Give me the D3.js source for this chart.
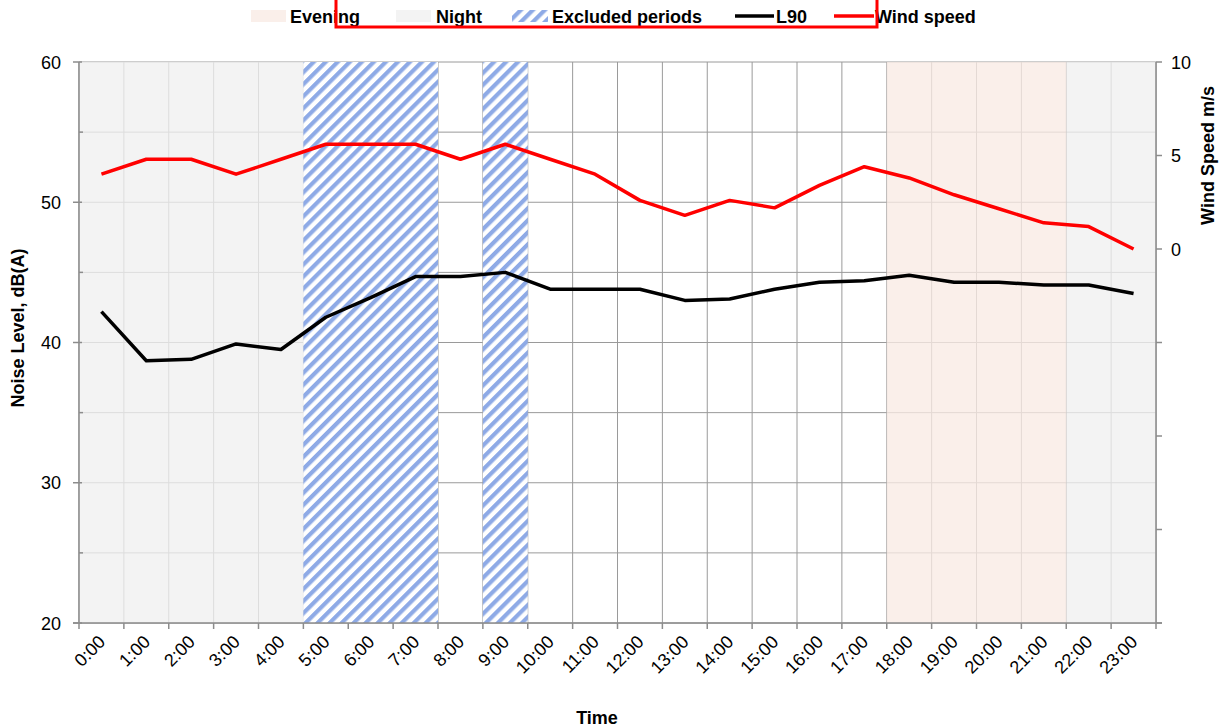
<!DOCTYPE html>
<html>
<head>
<meta charset="utf-8">
<script src="https://cdn.jsdelivr.net/npm/d3@7"></script>
<style>
  body { margin: 0; background: #fff; }
  text { font-family: 'Liberation Sans', Arial, sans-serif; }
</style>
</head>
<body>
<div id="chart"></div>
<script>
/* global d3 */

const hours = ['0:00', '1:00', '2:00', '3:00', '4:00', '5:00', '6:00', '7:00', '8:00', '9:00',
  '10:00', '11:00', '12:00', '13:00', '14:00', '15:00', '16:00', '17:00', '18:00', '19:00',
  '20:00', '21:00', '22:00', '23:00'];

const l90 = [42.2, 38.7, 38.8, 39.9, 39.5, 41.8, 43.2, 44.7, 44.7, 45.0,
  43.8, 43.8, 43.8, 43.0, 43.1, 43.8, 44.3, 44.4, 44.8, 44.3,
  44.3, 44.1, 44.1, 43.5];

const windSpeed = [4.0, 4.8, 4.8, 4.0, 4.8, 5.6, 5.6, 5.6, 4.8, 5.6,
  4.8, 4.0, 2.6, 1.8, 2.6, 2.2, 3.4, 4.4, 3.8, 2.9,
  2.15, 1.4, 1.2, 0.0];

// periods in hours [start, end]
const nightPeriods = [[0, 7], [22, 24]];
const eveningPeriods = [[18, 22]];
const excludedPeriods = [[5, 8], [9, 10]];

const leftTicks = [20, 30, 40, 50, 60];
const rightTicks = [0, 5, 10];

const width = 1224;
const height = 728;
const margin = { top: 62, right: 68, bottom: 105, left: 79 };
const plotRight = width - margin.right;
const plotBottom = height - margin.bottom;
const fontSize = '18px';

const svg = d3.select('#chart')
  .append('svg')
  .attr('width', width)
  .attr('height', height);

const x = d3.scaleBand()
  .domain(hours)
  .range([margin.left, plotRight]);

const hourX = d3.scaleLinear()
  .domain([0, 24])
  .range([margin.left, plotRight]);

const y = d3.scaleLinear()
  .domain([20, 60])
  .range([plotBottom, margin.top]);

const yWind = d3.scaleLinear()
  .domain([-20, 10])
  .range([plotBottom, margin.top]);

// hatch pattern
const defs = svg.append('defs');
const pattern = defs.append('pattern')
  .attr('id', 'hatch')
  .attr('patternUnits', 'userSpaceOnUse')
  .attr('width', 8.5)
  .attr('height', 8.5)
  .attr('patternTransform', 'rotate(45)');
pattern.append('rect')
  .attr('width', 8.5)
  .attr('height', 8.5)
  .attr('fill', '#fff');
pattern.append('rect')
  .attr('width', 4.2)
  .attr('height', 8.5)
  .attr('fill', '#8eaae6');

// gridlines
const grid = svg.append('g');
grid.selectAll('.hgrid')
  .data(d3.range(20, 61, 5))
  .enter()
  .append('line')
  .attr('x1', margin.left)
  .attr('x2', plotRight)
  .attr('y1', (d) => y(d))
  .attr('y2', (d) => y(d))
  .attr('stroke', '#9a9a9a')
  .attr('stroke-width', 1);
grid.selectAll('.vgrid')
  .data(d3.range(0, 25))
  .enter()
  .append('line')
  .attr('x1', (d) => hourX(d))
  .attr('x2', (d) => hourX(d))
  .attr('y1', margin.top)
  .attr('y2', plotBottom)
  .attr('stroke', '#9a9a9a')
  .attr('stroke-width', 1);

// shaded periods
svg.selectAll('.night')
  .data(nightPeriods)
  .enter()
  .append('rect')
  .attr('x', (d) => hourX(d[0]))
  .attr('width', (d) => hourX(d[1]) - hourX(d[0]))
  .attr('y', margin.top)
  .attr('height', plotBottom - margin.top)
  .attr('fill', '#efefef')
  .attr('fill-opacity', 0.78);

svg.selectAll('.evening')
  .data(eveningPeriods)
  .enter()
  .append('rect')
  .attr('x', (d) => hourX(d[0]))
  .attr('width', (d) => hourX(d[1]) - hourX(d[0]))
  .attr('y', margin.top)
  .attr('height', plotBottom - margin.top)
  .attr('fill', '#f9ebe4')
  .attr('fill-opacity', 0.78);

svg.selectAll('.excluded')
  .data(excludedPeriods)
  .enter()
  .append('rect')
  .attr('x', (d) => hourX(d[0]))
  .attr('width', (d) => hourX(d[1]) - hourX(d[0]))
  .attr('y', margin.top)
  .attr('height', plotBottom - margin.top)
  .attr('fill', 'url(#hatch)');

// axes
const axisColor = '#8c8c8c';

svg.append('line')
  .attr('x1', margin.left).attr('x2', margin.left)
  .attr('y1', margin.top).attr('y2', plotBottom)
  .attr('stroke', axisColor).attr('stroke-width', 1.5);
svg.append('line')
  .attr('x1', plotRight).attr('x2', plotRight)
  .attr('y1', margin.top).attr('y2', plotBottom)
  .attr('stroke', axisColor).attr('stroke-width', 1.5);
svg.append('line')
  .attr('x1', margin.left - 6).attr('x2', plotRight + 6)
  .attr('y1', plotBottom).attr('y2', plotBottom)
  .attr('stroke', axisColor).attr('stroke-width', 1.5);

// left ticks
svg.selectAll('.lmajor')
  .data(leftTicks)
  .enter()
  .append('line')
  .attr('x1', margin.left - 6)
  .attr('x2', margin.left + 3)
  .attr('y1', (d) => y(d))
  .attr('y2', (d) => y(d))
  .attr('stroke', axisColor)
  .attr('stroke-width', 1.5);
svg.selectAll('.lminor')
  .data(d3.range(25, 60, 10))
  .enter()
  .append('line')
  .attr('x1', margin.left)
  .attr('x2', margin.left + 4)
  .attr('y1', (d) => y(d))
  .attr('y2', (d) => y(d))
  .attr('stroke', axisColor)
  .attr('stroke-width', 1.5);
svg.selectAll('.llabel')
  .data(leftTicks)
  .enter()
  .append('text')
  .attr('x', margin.left - 18)
  .attr('y', (d) => y(d) + 6.5)
  .attr('text-anchor', 'end')
  .style('font-size', fontSize)
  .text((d) => d);

// right ticks
svg.selectAll('.rtick')
  .data(d3.range(-20, 11, 5))
  .enter()
  .append('line')
  .attr('x1', plotRight)
  .attr('x2', plotRight + 6)
  .attr('y1', (d) => yWind(d))
  .attr('y2', (d) => yWind(d))
  .attr('stroke', axisColor)
  .attr('stroke-width', 1.5);
svg.selectAll('.rlabel')
  .data(rightTicks)
  .enter()
  .append('text')
  .attr('x', plotRight + 15)
  .attr('y', (d) => yWind(d) + 6.5)
  .style('font-size', fontSize)
  .text((d) => d);

// x ticks and labels
svg.selectAll('.xtick')
  .data(d3.range(0, 25))
  .enter()
  .append('line')
  .attr('x1', (d) => hourX(d))
  .attr('x2', (d) => hourX(d))
  .attr('y1', plotBottom)
  .attr('y2', plotBottom + 6)
  .attr('stroke', axisColor)
  .attr('stroke-width', 1.5);
svg.selectAll('.xlabel')
  .data(hours)
  .enter()
  .append('text')
  .attr('text-anchor', 'end')
  .attr('transform', (d) => `translate(${x(d) + x.bandwidth() / 2 + 5} ${plotBottom + 20}) rotate(-45)`)
  .style('font-size', fontSize)
  .text((d) => d);

// lines
const l90Line = d3.line()
  .x((d, i) => x(hours[i]) + x.bandwidth() / 2)
  .y((d) => y(d));
const windLine = d3.line()
  .x((d, i) => x(hours[i]) + x.bandwidth() / 2)
  .y((d) => yWind(d));

svg.append('path')
  .datum(l90)
  .attr('d', l90Line)
  .attr('fill', 'none')
  .attr('stroke', '#000')
  .attr('stroke-width', 3.5)
  .attr('stroke-linejoin', 'round');
svg.append('path')
  .datum(windSpeed)
  .attr('d', windLine)
  .attr('fill', 'none')
  .attr('stroke', '#ff0000')
  .attr('stroke-width', 3.5)
  .attr('stroke-linejoin', 'round');

// axis titles
svg.append('text')
  .attr('transform', 'translate(24 328) rotate(-90)')
  .attr('text-anchor', 'middle')
  .style('font-size', fontSize)
  .style('font-weight', 'bold')
  .text('Noise Level, dB(A)');
svg.append('text')
  .attr('transform', `translate(1214 ${yWind(5)}) rotate(-90)`)
  .attr('text-anchor', 'middle')
  .style('font-size', fontSize)
  .style('font-weight', 'bold')
  .text('Wind Speed m/s');
svg.append('text')
  .attr('x', 597)
  .attr('y', 724)
  .attr('text-anchor', 'middle')
  .style('font-size', fontSize)
  .style('font-weight', 'bold')
  .text('Time');

// legend
const legend = svg.append('g')
  .attr('transform', 'translate(0 23)');

legend.append('rect')
  .attr('x', 251).attr('y', -13).attr('width', 35).attr('height', 12)
  .attr('fill', '#f9ebe4').attr('fill-opacity', 0.78);
legend.append('text')
  .attr('x', 290)
  .style('font-size', fontSize).style('font-weight', 'bold')
  .text('Evening');

legend.append('rect')
  .attr('x', 396).attr('y', -13).attr('width', 35).attr('height', 12)
  .attr('fill', '#efefef').attr('fill-opacity', 0.78);
legend.append('text')
  .attr('x', 436)
  .style('font-size', fontSize).style('font-weight', 'bold')
  .text('Night');

legend.append('rect')
  .attr('x', 512).attr('y', -13).attr('width', 36).attr('height', 12)
  .attr('fill', 'url(#hatch)');
legend.append('text')
  .attr('x', 552)
  .style('font-size', fontSize).style('font-weight', 'bold')
  .text('Excluded periods');

legend.append('line')
  .attr('x1', 735).attr('x2', 774).attr('y1', -7).attr('y2', -7)
  .attr('stroke', '#000').attr('stroke-width', 3.5);
legend.append('text')
  .attr('x', 776)
  .style('font-size', fontSize).style('font-weight', 'bold')
  .text('L90');

legend.append('line')
  .attr('x1', 834).attr('x2', 874).attr('y1', -7).attr('y2', -7)
  .attr('stroke', '#ff0000').attr('stroke-width', 3.5);
legend.append('text')
  .attr('x', 875)
  .style('font-size', fontSize).style('font-weight', 'bold')
  .text('Wind speed');

// red highlight box round the legend
svg.append('rect')
  .attr('x', 336)
  .attr('y', -10)
  .attr('width', 541)
  .attr('height', 37)
  .attr('fill', 'none')
  .attr('stroke', '#ff0000')
  .attr('stroke-width', 3);
</script>
</body>
</html>
